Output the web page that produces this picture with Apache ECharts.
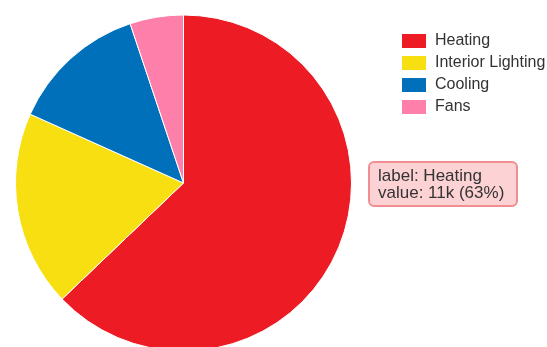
<!DOCTYPE html>
<html>
<head>
<meta charset="utf-8">
<script src="https://cdn.jsdelivr.net/npm/echarts@6/dist/echarts.min.js"></script>
<style>
  html, body { margin: 0; padding: 0; background: #fff; }
  #chart { width: 547px; height: 347px; }
</style>
</head>
<body>
<div id="chart"></div>
<script>
// pie data
var labels = ["Heating", "Interior Lighting", "Cooling", "Fans"];
var values = [11000, 3300, 2300, 900];
var colors = ["#ED1C24", "#F7DF12", "#0070BB", "#FF7FAB"];

var chart = echarts.init(document.getElementById("chart"));

var option = {
  animation: false,
  color: colors,
  legend: {
    orient: "vertical",
    left: 397,
    top: 28,
    icon: "rect",
    itemWidth: 24,
    itemHeight: 14,
    itemGap: 6,
    itemStyle: { borderWidth: 0 },
    textStyle: {
      fontSize: 16, lineHeight: 16, color: "#333",
      fontFamily: "Liberation Sans", padding: [0, 0, 0, 4]
    },
    data: labels
  },
  tooltip: {
    trigger: "item",
    alwaysShowContent: true,
    transitionDuration: 0,
    position: [368, 161],
    backgroundColor: "#FCD2D4",
    borderColor: "#F08E92",
    borderWidth: 2,
    padding: [4, 12, 4, 8],
    extraCssText: "border-radius:6px;box-shadow:none;line-height:17px;",
    textStyle: { fontSize: 17, color: "#333", fontFamily: "Liberation Sans" },
    formatter: function (p) {
      return "label: " + p.name + "<br/>value: " +
        Math.round(p.value / 1000) + "k (" + Math.round(p.percent) + "%)";
    }
  },
  series: [
    {
      type: "pie",
      center: [183.5, 183],
      radius: 168,
      startAngle: 90,
      clockwise: true,
      label: { show: false },
      labelLine: { show: false },
      itemStyle: { borderColor: "#fff", borderWidth: 1 },
      emphasis: { disabled: true },
      data: labels.map(function (n, i) {
        return { name: n, value: values[i] };
      })
    }
  ]
};

chart.setOption(option);
chart.dispatchAction({ type: "showTip", seriesIndex: 0, dataIndex: 0 });
</script>
</body>
</html>
